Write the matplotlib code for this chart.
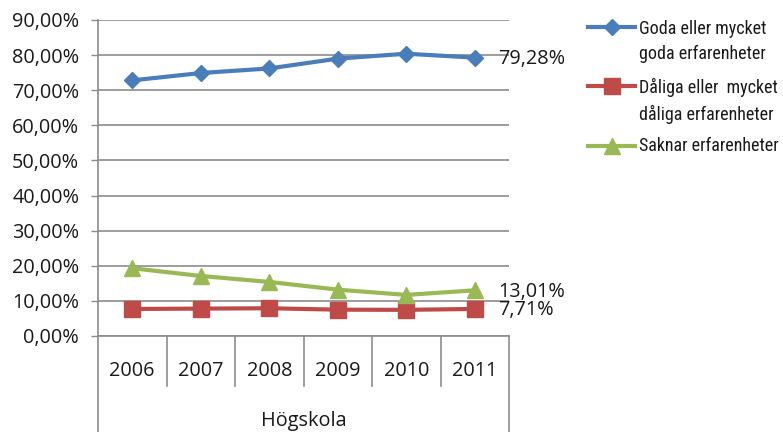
#!/usr/bin/env python3
"""Line chart: experiences at Högskola, 2006-2011."""

import matplotlib
matplotlib.use("Agg")
import matplotlib.pyplot as plt
import matplotlib.transforms as mtransforms
from matplotlib import font_manager
from matplotlib.lines import Line2D

# ---------------------------------------------------------------------------
# Data (percent)
# ---------------------------------------------------------------------------

years = ["2006", "2007", "2008", "2009", "2010", "2011"]
goda = [72.8, 74.9, 76.2, 79.0, 80.4, 79.28]
daliga = [7.7, 7.8, 7.9, 7.5, 7.45, 7.71]
saknar = [19.3, 17.1, 15.4, 13.2, 11.7, 13.01]

series_labels = [
    "Goda eller mycket\ngoda erfarenheter",
    "Dåliga eller  mycket\ndåliga erfarenheter",
    "Saknar erfarenheter",
]
y_ticks = [0, 10, 20, 30, 40, 50, 60, 70, 80, 90]
group_label = "Högskola"

# ---------------------------------------------------------------------------
# Style
# ---------------------------------------------------------------------------

COLORS = ["#4A7EBB", "#BE4B48", "#98B954"]
MARKERS = [("D", 8.5), ("s", 11), ("^", 12)]
GRID = "#8C8C8C"
TEXT = "#1a1a1a"
FS = 14.3

fonts = font_manager.fontManager.ttflist
installed = {f.name for f in fonts}
AX_FONT = "Open Sans" if "Open Sans" in installed else "DejaVu Sans"

# narrow face for the legend, if one exists
LEG_PROP = None
for name in ["Liberation Sans Narrow", "Roboto Condensed", "Open Sans Condensed",
             "Noto Sans Condensed", "DejaVu Sans Condensed"]:
    if name in installed:
        LEG_PROP = font_manager.FontProperties(family=name)
        break
if LEG_PROP is None:
    cond = [f for f in fonts if f.name == "DejaVu Sans"
            and str(f.stretch) in ("condensed", "semi-condensed", "600", "700")]
    if cond:
        LEG_PROP = font_manager.FontProperties(family="DejaVu Sans",
                                               stretch="condensed")
    else:
        LEG_PROP = font_manager.FontProperties(family="DejaVu Sans")


def pct(v):
    return f"{v:.2f}%".replace(".", ",")


fig = plt.figure(figsize=(7.83, 4.32), dpi=100)
ax = fig.add_axes([98 / 783, 96 / 432, 411 / 783, 316 / 432])

x = list(range(len(years)))
for vals, color, (mk, ms) in zip([goda, daliga, saknar], COLORS, MARKERS):
    ax.plot(x, vals, color=color, lw=3, marker=mk, markersize=ms,
            markerfacecolor=color, markeredgecolor=color, zorder=3,
            clip_on=False)
    ax.annotate(pct(vals[-1]), xy=(x[-1], vals[-1]), xytext=(17, -1),
                textcoords="offset points", va="center", ha="left",
                fontsize=FS, family=AX_FONT, color=TEXT)

ax.set_xlim(-0.5, len(years) - 0.5)
ax.set_ylim(0, 90)
ax.set_yticks(y_ticks)
ax.set_yticklabels([pct(t) for t in y_ticks], family=AX_FONT, fontsize=FS,
                   color=TEXT)
ax.yaxis.grid(True, color=GRID, lw=1.2)
ax.set_axisbelow(True)
ax.tick_params(axis="y", length=5, width=1, color=GRID, pad=8.5)
ax.set_xticks([])

for side in ["top", "right"]:
    ax.spines[side].set_visible(False)
for side in ["left", "bottom"]:
    ax.spines[side].set_color(GRID)
    ax.spines[side].set_linewidth(1.2)

# Category axis: separators, year labels and group label below the plot
trans = mtransforms.blended_transform_factory(ax.transData, ax.transAxes)
for i in range(len(years) + 1):
    edge = i - 0.5
    y_end = -0.305 if i in (0, len(years)) else -0.158
    ax.plot([edge, edge], [0, y_end], color=GRID, lw=1.2, transform=trans,
            clip_on=False)
for i, yr in enumerate(years):
    ax.text(i, -0.11, yr, transform=trans, ha="center", va="center",
            fontsize=FS, family=AX_FONT, color=TEXT)
ax.text((len(years) - 1) / 2, -0.27, group_label, transform=trans,
        ha="center", va="center", fontsize=FS, family=AX_FONT, color=TEXT)

# Legend, drawn by hand so the marker sits on the first text line.
# Size the legend font so "Saknar erfarenheter" is about 141 px wide.
renderer = fig.canvas.get_renderer()
probe = fig.text(0, 0, series_labels[2], fontproperties=LEG_PROP, fontsize=14)
w = probe.get_window_extent(renderer).width
probe.remove()
leg_fs = min(14, 14 * 141 / w)

px = lambda v: 1 - v / 432  # pixel row -> figure fraction
marker_rows = [27, 86, 146]
text_rows = [41.5, 101, 146]
for color, (mk, ms), lab, my, ty in zip(COLORS, MARKERS, series_labels,
                                         marker_rows, text_rows):
    fig.add_artist(Line2D([588 / 783, 635 / 783], [px(my), px(my)],
                          color=color, lw=3, transform=fig.transFigure))
    fig.add_artist(Line2D([611.5 / 783], [px(my)], color=color, marker=mk,
                          markersize=ms, markeredgecolor=color,
                          transform=fig.transFigure))
    fig.text(639 / 783, px(ty), lab, fontproperties=LEG_PROP, fontsize=leg_fs,
             va="center", ha="left", color=TEXT, linespacing=1.5)

fig.savefig("out.png", dpi=100)
